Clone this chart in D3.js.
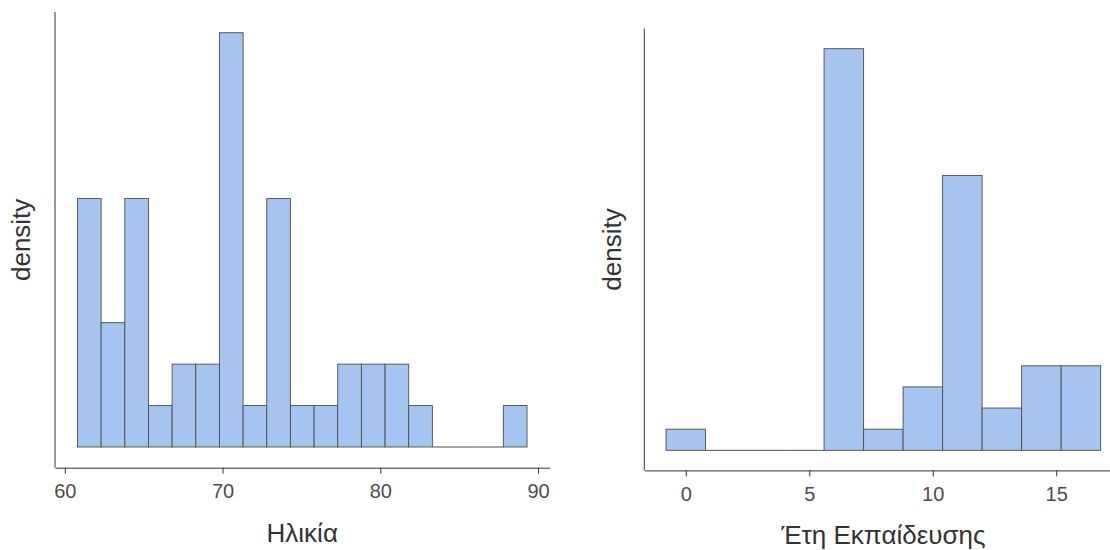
<!DOCTYPE html>
<html>
<head>
<meta charset="utf-8">
<script src="https://cdn.jsdelivr.net/npm/d3@7"></script>
<style>
  html, body { margin: 0; padding: 0; background: #fff; }
  svg { display: block; font-family: "Liberation Sans", Arial, sans-serif; }
</style>
</head>
<body>
<svg id="chart" width="1110" height="550"></svg>
<script>
// ---- Data ----
const ageBreaks = [60.8, 62.3, 63.8, 65.3, 66.8, 68.3, 69.8, 71.3, 72.8, 74.3, 75.8, 77.3, 78.8, 80.3, 81.8, 83.3, 84.8, 86.3, 87.8, 89.3];
const ageCounts = [6, 3, 6, 1, 2, 2, 10, 1, 6, 1, 1, 2, 2, 2, 1, 0, 0, 0, 1];
const ageTicks = [60, 70, 80, 90];

const eduBreaks = [-0.8, 0.8, 2.4, 4.0, 5.6, 7.2, 8.8, 10.4, 12.0, 13.6, 15.2, 16.8];
const eduCounts = [1, 0, 0, 0, 19, 1, 3, 13, 2, 4, 4];
const eduTicks = [0, 5, 10, 15];

const yTitle = "density";
const ageTitle = "Ηλικία";
const eduTitle = "Έτη Εκπαίδευσης";

// ---- Styles ----
const FILL = "#a6c4f0";
const STROKE = "#4d4d4d";
const AXIS = "#333333";
const TICKTEXT = "#4d4d4d";
const TITLE = "#333333";

const svg = d3.select("#chart");

function histogram(opts) {
  const { breaks, counts, ticks, xTitle, x0, x1, yTop, yBottom, yTitleX } = opts;
  const n = d3.sum(counts);
  const bins = counts.map((c, i) => ({
    x0: breaks[i], x1: breaks[i + 1],
    d: c / (n * (breaks[i + 1] - breaks[i]))
  }));
  const xmin = breaks[0], xmax = breaks[breaks.length - 1];
  const xpad = (xmax - xmin) * 0.05;
  const dmax = d3.max(bins, b => b.d);
  const ypad = dmax * 0.05;

  const x = d3.scaleLinear().domain([xmin - xpad, xmax + xpad]).range([x0, x1]);
  const y = d3.scaleLinear().domain([-ypad, dmax + ypad]).range([yBottom, yTop]);

  const g = svg.append("g");

  // bars with non-zero height
  g.selectAll("rect.bar").data(bins.filter(b => b.d > 0)).join("rect")
    .attr("class", "bar")
    .attr("x", b => x(b.x0))
    .attr("y", b => y(b.d))
    .attr("width", b => x(b.x1) - x(b.x0))
    .attr("height", b => y(0) - y(b.d))
    .attr("fill", FILL)
    .attr("stroke", STROKE)
    .attr("stroke-width", 0.9);

  // empty bins drawn as outline on the baseline
  g.selectAll("line.empty").data(bins.filter(b => b.d === 0)).join("line")
    .attr("class", "empty")
    .attr("x1", b => x(b.x0))
    .attr("x2", b => x(b.x1))
    .attr("y1", y(0)).attr("y2", y(0))
    .attr("stroke", STROKE)
    .attr("stroke-width", 1);

  // x axis
  const xAxis = d3.axisBottom(x).tickValues(ticks).tickSize(6).tickPadding(10).tickSizeOuter(0);
  const ax = g.append("g").attr("transform", `translate(0,${yBottom})`).call(xAxis);
  ax.select(".domain").attr("stroke", AXIS).attr("stroke-width", 1);
  ax.selectAll(".tick line").attr("stroke", AXIS).attr("stroke-width", 1);
  ax.selectAll(".tick text")
    .attr("fill", TICKTEXT)
    .attr("font-size", 20)
    .attr("font-family", "'Liberation Sans', Arial, sans-serif");

  // y axis line only
  g.append("line")
    .attr("x1", x0).attr("x2", x0)
    .attr("y1", yTop).attr("y2", yBottom)
    .attr("stroke", AXIS).attr("stroke-width", 1);

  // titles
  g.append("text")
    .attr("x", (x0 + x1) / 2)
    .attr("y", yBottom + 74)
    .attr("text-anchor", "middle")
    .attr("font-size", 26)
    .attr("fill", TITLE)
    .text(xTitle);

  g.append("text")
    .attr("transform", `translate(${yTitleX},${(yTop + yBottom) / 2}) rotate(-90)`)
    .attr("text-anchor", "middle")
    .attr("font-size", 26)
    .attr("fill", TITLE)
    .text(yTitle);
}

histogram({
  breaks: ageBreaks, counts: ageCounts, ticks: ageTicks, xTitle: ageTitle,
  x0: 55, x1: 549.5, yTop: 12, yBottom: 467.7, yTitleX: 30
});

histogram({
  breaks: eduBreaks, counts: eduCounts, ticks: eduTicks, xTitle: eduTitle,
  x0: 644.3, x1: 1122.4, yTop: 28.6, yBottom: 470.4, yTitleX: 621
});
</script>
</body>
</html>
